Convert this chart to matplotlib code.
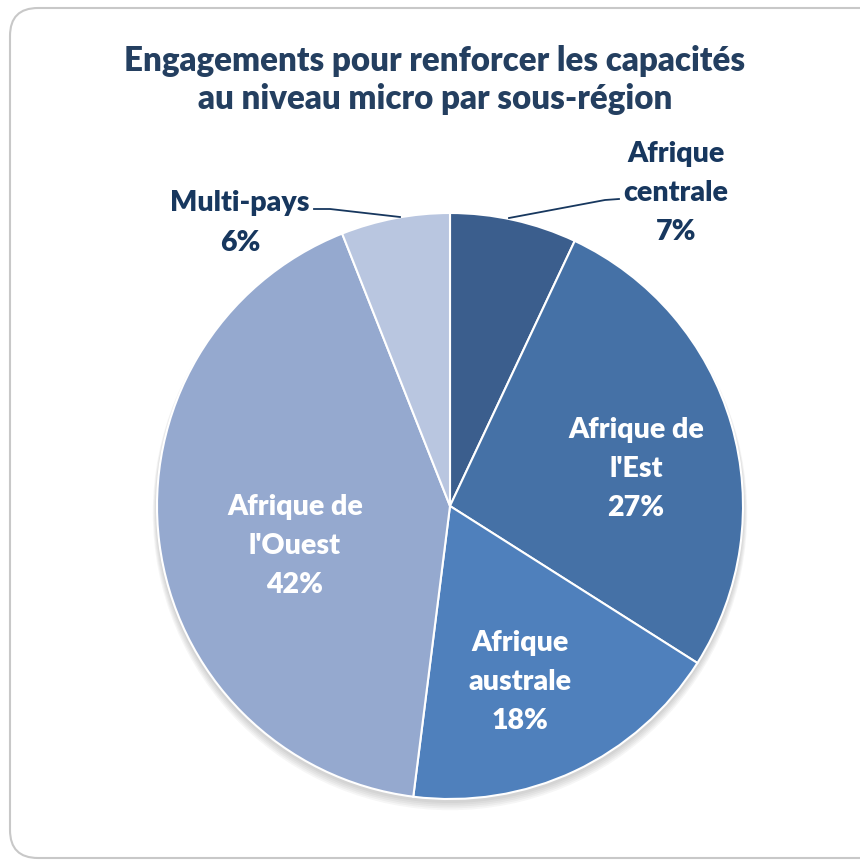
import matplotlib
matplotlib.use("Agg")
import matplotlib.pyplot as plt
from matplotlib.patches import FancyBboxPatch, Circle

categories = ["Afrique\ncentrale", "Afrique de\nl'Est", "Afrique\naustrale", "Afrique de\nl'Ouest", "Multi-pays"]
values = [7, 27, 18, 42, 6]
colors = ["#3B5E8D", "#4571A6", "#4F80BC", "#95A9CF", "#B9C6E0"]
title = "Engagements pour renforcer les capacités\nau niveau micro par sous-région"

W, H = 860, 863
plt.rcParams['font.family'] = ['Lato', 'DejaVu Sans']
fig = plt.figure(figsize=(W / 100, H / 100), dpi=100)
fig.patch.set_facecolor("white")
ax = fig.add_axes([0, 0, 1, 1])

def Y(py):
    return H - py

# border
border = FancyBboxPatch((10, Y(858)), 900, 850, boxstyle="round,pad=0,rounding_size=28",
                        facecolor="white", edgecolor="#C8C8C8", linewidth=1.5, zorder=0)
ax.add_patch(border)

cx, cy, r = 450, Y(506), 293
# shadow
for i in range(5):
    ax.add_patch(Circle((cx, cy - 3 - i), r + 1 + i * 0.8, facecolor="#505050", alpha=0.05,
                        edgecolor="none", zorder=1))

wedges, _ = ax.pie(values, colors=colors, startangle=90, counterclock=False,
                   center=(cx, cy), radius=r,
                   wedgeprops=dict(edgecolor="white", linewidth=1.5, zorder=2))
for w in wedges:
    w.set_zorder(2)

ax.set_xlim(0, W)
ax.set_ylim(0, H)
ax.set_aspect("equal")
ax.axis("off")

fs = 28.5 * 0.72
wt = "heavy"
ls = 1.63
dark = "#17375E"
ax.text(435, Y(80), title, ha="center", va="center", fontsize=33 * 0.72, fontweight=wt,
        color="#243F60", linespacing=1.2)

pct = [f"{v}%" for v in values]
# outside labels
ax.text(676, Y(193), categories[0] + "\n" + pct[0], ha="center", va="center", fontsize=fs,
        fontweight=wt, color=dark, linespacing=ls)
ax.text(240, Y(223), categories[4] + "\n" + pct[4], ha="center", va="center", fontsize=fs,
        fontweight=wt, color=dark, linespacing=ls)
# inside labels
ax.text(636, Y(469), categories[1] + "\n" + pct[1], ha="center", va="center", fontsize=fs,
        fontweight=wt, color="white", linespacing=ls, zorder=5)
ax.text(520, Y(682), categories[2] + "\n" + pct[2], ha="center", va="center", fontsize=fs,
        fontweight=wt, color="white", linespacing=ls, zorder=5)
ax.text(295, Y(546), categories[3] + "\n" + pct[3], ha="center", va="center", fontsize=fs,
        fontweight=wt, color="white", linespacing=ls, zorder=5)

# leader lines
ax.plot([509, 605, 619], [Y(218), Y(200), Y(199)], color=dark, lw=1.3, zorder=4)
ax.plot([400, 330, 314], [Y(217), Y(209), Y(209)], color=dark, lw=1.3, zorder=4)

fig.savefig("out.png", dpi=100, facecolor="white")
